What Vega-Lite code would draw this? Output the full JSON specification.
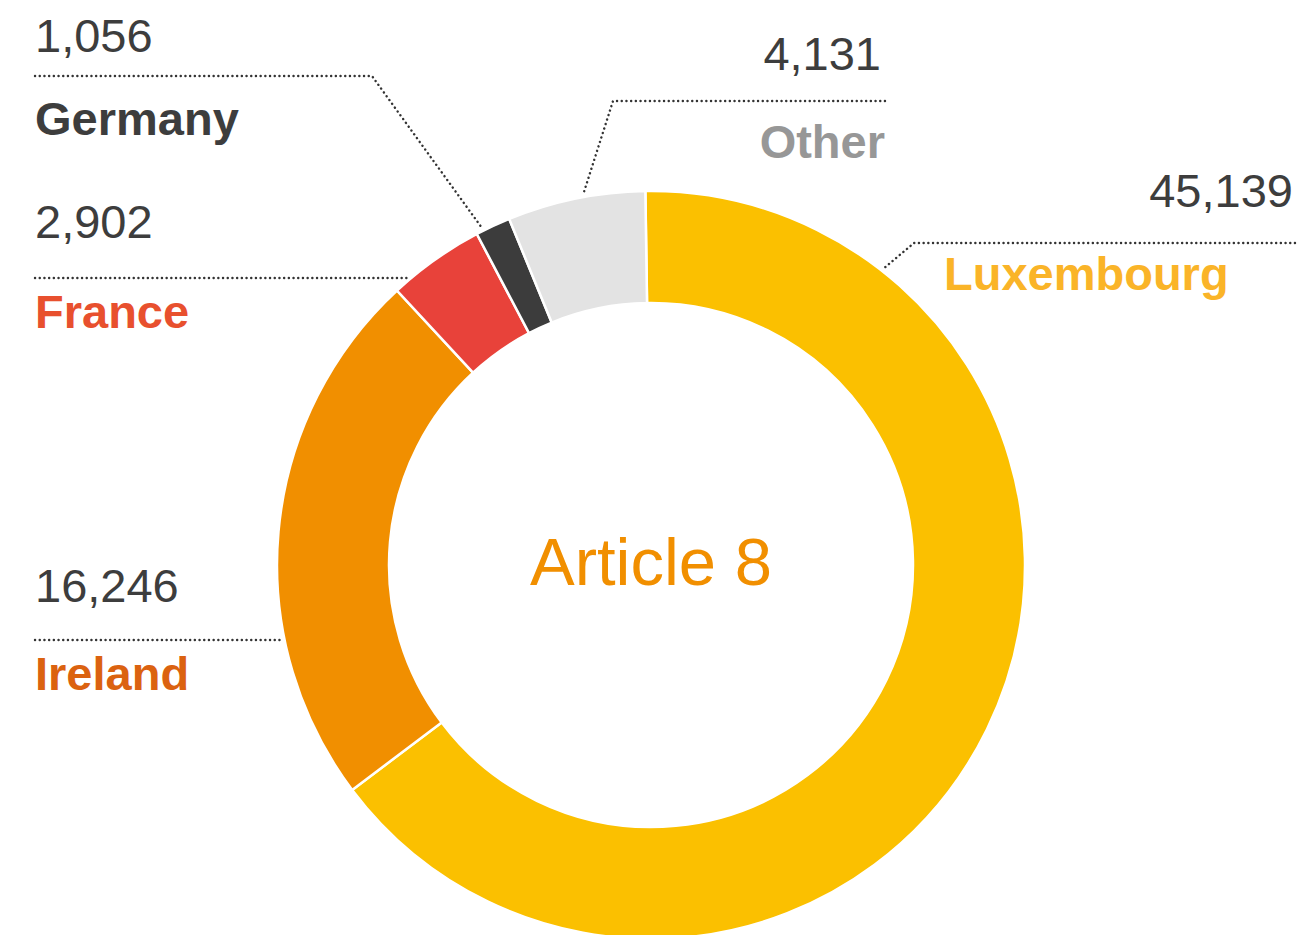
{
  "$schema": "https://vega.github.io/schema/vega-lite/v6.json",
  "width": 1303,
  "height": 935,
  "padding": 0,
  "autosize": {"type": "none"},
  "background": "white",
  "config": {"view": {"stroke": null}, "text": {"font": "Liberation Sans"}},
  "datasets": {
    "slices": [
      {"country": "Luxembourg", "value": 45139, "rank": 1},
      {"country": "Ireland", "value": 16246, "rank": 2},
      {"country": "France", "value": 2902, "rank": 3},
      {"country": "Germany", "value": 1056, "rank": 4},
      {"country": "Other", "value": 4131, "rank": 5}
    ],
    "labels": [
      {"country": "Germany", "value": 1056, "numX": 35, "numY": 52, "nameX": 35, "nameY": 135},
      {"country": "France", "value": 2902, "numX": 35, "numY": 238, "nameX": 35, "nameY": 328},
      {"country": "Ireland", "value": 16246, "numX": 35, "numY": 602, "nameX": 35, "nameY": 690},
      {"country": "Other", "value": 4131, "numX": 881, "numY": 70, "nameX": 885, "nameY": 158},
      {"country": "Luxembourg", "value": 45139, "numX": 1293, "numY": 207, "nameX": 944, "nameY": 290}
    ],
    "leaders": [
      {"country": "Germany", "i": 1, "x": 35, "y": 76},
      {"country": "Germany", "i": 2, "x": 372, "y": 76},
      {"country": "Germany", "i": 3, "x": 482, "y": 228},
      {"country": "France", "i": 1, "x": 35, "y": 278},
      {"country": "France", "i": 2, "x": 408, "y": 278},
      {"country": "Ireland", "i": 1, "x": 35, "y": 640},
      {"country": "Ireland", "i": 2, "x": 283, "y": 640},
      {"country": "Other", "i": 1, "x": 885, "y": 101},
      {"country": "Other", "i": 2, "x": 613, "y": 101},
      {"country": "Other", "i": 3, "x": 583, "y": 195},
      {"country": "Luxembourg", "i": 1, "x": 1295, "y": 243},
      {"country": "Luxembourg", "i": 2, "x": 914, "y": 243},
      {"country": "Luxembourg", "i": 3, "x": 883, "y": 269}
    ],
    "center": [{"title": "Article 8", "cx": 651, "cy": 585}]
  },
  "layer": [
    {
      "data": {"name": "slices"},
      "mark": {"type": "arc", "radius": 374, "innerRadius": 262, "stroke": "white", "strokeWidth": 2.5},
      "encoding": {
        "x": {"datum": 651, "type": "quantitative", "scale": {"domain": [0, 1303], "nice": false, "zero": false}, "axis": null},
        "y": {"datum": 565, "type": "quantitative", "scale": {"domain": [0, 935], "nice": false, "zero": false, "reverse": true}, "axis": null},
        "theta": {"field": "value", "type": "quantitative", "stack": true, "scale": {"range": [-0.015, 6.268]}},
        "order": {"field": "rank", "type": "quantitative"},
        "fill": {
          "field": "country", "type": "nominal", "legend": null,
          "scale": {"domain": ["Luxembourg", "Ireland", "France", "Germany", "Other"], "range": ["#FBC000", "#F18F00", "#E8423A", "#3C3C3C", "#E3E3E3"]}
        }
      }
    },
    {
      "data": {"name": "leaders"},
      "mark": {"type": "line", "stroke": "#333333", "strokeWidth": 2.4, "strokeCap": "round", "strokeDash": [0.1, 4.6]},
      "encoding": {
        "x": {"field": "x", "type": "quantitative"},
        "y": {"field": "y", "type": "quantitative"},
        "detail": {"field": "country", "type": "nominal"},
        "order": {"field": "i", "type": "quantitative"}
      }
    },
    {
      "data": {"name": "labels"},
      "transform": [{"filter": "datum.country !== 'Other' && datum.country !== 'Luxembourg'"}],
      "mark": {"type": "text", "align": "left", "baseline": "alphabetic", "fontSize": 47, "fill": "#3D3D3D"},
      "encoding": {
        "x": {"field": "numX", "type": "quantitative"},
        "y": {"field": "numY", "type": "quantitative"},
        "text": {"field": "value", "type": "quantitative", "format": ","}
      }
    },
    {
      "data": {"name": "labels"},
      "transform": [{"filter": "datum.country === 'Other' || datum.country === 'Luxembourg'"}],
      "mark": {"type": "text", "align": "right", "baseline": "alphabetic", "fontSize": 47, "fill": "#3D3D3D"},
      "encoding": {
        "x": {"field": "numX", "type": "quantitative"},
        "y": {"field": "numY", "type": "quantitative"},
        "text": {"field": "value", "type": "quantitative", "format": ","}
      }
    },
    {
      "data": {"name": "labels"},
      "transform": [{"filter": "datum.country !== 'Other'"}],
      "mark": {"type": "text", "align": "left", "baseline": "alphabetic", "fontSize": 47, "fontWeight": "bold"},
      "encoding": {
        "x": {"field": "nameX", "type": "quantitative"},
        "y": {"field": "nameY", "type": "quantitative"},
        "text": {"field": "country", "type": "nominal"},
        "color": {
          "field": "country", "type": "nominal", "legend": null,
          "scale": {"domain": ["Luxembourg", "Ireland", "France", "Germany", "Other"], "range": ["#FAB428", "#DB6210", "#E8502E", "#3D3D3D", "#979797"]}
        }
      }
    },
    {
      "data": {"name": "labels"},
      "transform": [{"filter": "datum.country === 'Other'"}],
      "mark": {"type": "text", "align": "right", "baseline": "alphabetic", "fontSize": 47, "fontWeight": "bold"},
      "encoding": {
        "x": {"field": "nameX", "type": "quantitative"},
        "y": {"field": "nameY", "type": "quantitative"},
        "text": {"field": "country", "type": "nominal"},
        "color": {"field": "country", "type": "nominal", "legend": null}
      }
    },
    {
      "data": {"name": "center"},
      "mark": {"type": "text", "align": "center", "baseline": "alphabetic", "fontSize": 67, "fill": "#F18F00"},
      "encoding": {
        "x": {"field": "cx", "type": "quantitative"},
        "y": {"field": "cy", "type": "quantitative"},
        "text": {"field": "title", "type": "nominal"}
      }
    }
  ]
}
